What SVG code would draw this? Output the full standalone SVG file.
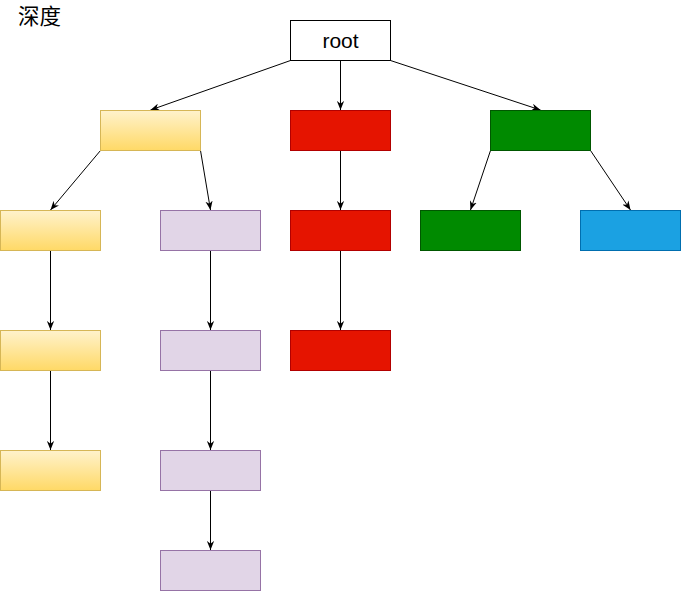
<svg xmlns="http://www.w3.org/2000/svg" width="681" height="591" viewBox="0 0 681 591">
<style>
.y{fill:url(#yg);stroke:#d6b656;stroke-width:1}
.p{fill:#e1d5e7;stroke:#9673a6;stroke-width:1}
.r{fill:#e51400;stroke:#b20000;stroke-width:1}
.g{fill:#008a00;stroke:#005700;stroke-width:1}
.b{fill:#1ba1e2;stroke:#006eaf;stroke-width:1}
.w{fill:#ffffff;stroke:#000000;stroke-width:1}
.e{fill:none;stroke:#000000;stroke-width:1;marker-end:url(#arr)}
text{font-family:"Liberation Sans","Noto Sans CJK SC",sans-serif;fill:#000}
</style>
<defs>
<linearGradient id="yg" x1="0" y1="0" x2="0" y2="1">
<stop offset="0" stop-color="#fff2cc"/>
<stop offset="1" stop-color="#ffd966"/>
</linearGradient>
<marker id="arr" viewBox="0 0 10 8" refX="10" refY="4" markerWidth="9" markerHeight="7.5" markerUnits="userSpaceOnUse" orient="auto">
<path d="M0,0 L10,4 L0,8 L3,4 Z" fill="#000"/>
</marker>
</defs>
<text x="18" y="24" font-size="21.5" font-family="'Noto Sans CJK SC',sans-serif" fill="#333">深度</text>
<g id="connectors">
<path class="e" d="M290.5,60.5 L150.5,110"/>
<path class="e" d="M340.5,60.5 L340.5,110"/>
<path class="e" d="M390.5,60.5 L540.5,110"/>
<path class="e" d="M100.5,150.5 L50.5,210"/>
<path class="e" d="M200.5,150.5 L210.5,210"/>
<path class="e" d="M340.5,150.5 L340.5,210"/>
<path class="e" d="M490.5,150.5 L470.5,210"/>
<path class="e" d="M590.5,150.5 L630.5,210"/>
<path class="e" d="M50.5,250.5 L50.5,330"/>
<path class="e" d="M50.5,370.5 L50.5,450"/>
<path class="e" d="M210.5,250.5 L210.5,330"/>
<path class="e" d="M210.5,370.5 L210.5,450"/>
<path class="e" d="M210.5,490.5 L210.5,550"/>
<path class="e" d="M340.5,250.5 L340.5,330"/>
</g>
<g id="root"><rect class="w" x="290.5" y="20.5" width="100" height="40"/><text x="340.5" y="47.5" font-size="21" text-anchor="middle">root</text></g>
<g id="y1"><rect class="y" x="100.5" y="110.5" width="100" height="40"/></g>
<g id="r1"><rect class="r" x="290.5" y="110.5" width="100" height="40"/></g>
<g id="g1"><rect class="g" x="490.5" y="110.5" width="100" height="40"/></g>
<g id="y2"><rect class="y" x="0.5" y="210.5" width="100" height="40"/></g>
<g id="p2"><rect class="p" x="160.5" y="210.5" width="100" height="40"/></g>
<g id="r2"><rect class="r" x="290.5" y="210.5" width="100" height="40"/></g>
<g id="g2"><rect class="g" x="420.5" y="210.5" width="100" height="40"/></g>
<g id="b2"><rect class="b" x="580.5" y="210.5" width="100" height="40"/></g>
<g id="y3"><rect class="y" x="0.5" y="330.5" width="100" height="40"/></g>
<g id="p3"><rect class="p" x="160.5" y="330.5" width="100" height="40"/></g>
<g id="r3"><rect class="r" x="290.5" y="330.5" width="100" height="40"/></g>
<g id="y4"><rect class="y" x="0.5" y="450.5" width="100" height="40"/></g>
<g id="p4"><rect class="p" x="160.5" y="450.5" width="100" height="40"/></g>
<g id="p5"><rect class="p" x="160.5" y="550.5" width="100" height="40"/></g>
</svg>
